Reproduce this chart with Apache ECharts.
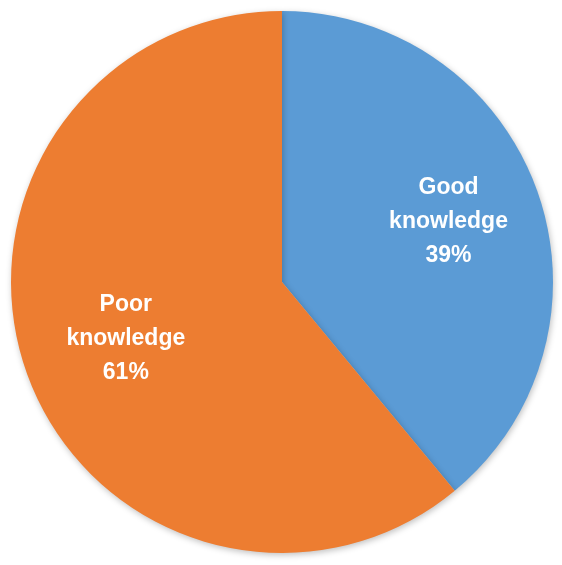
<!DOCTYPE html>
<html>
<head>
<meta charset="utf-8">
<script src="https://cdn.jsdelivr.net/npm/echarts@6/dist/echarts.min.js"></script>
<style>html,body{margin:0;padding:0;background:#fff;}#c{width:562px;height:565px;}</style>
</head>
<body>
<div id="c"></div>
<script>
const categories = ['Good\nknowledge', 'Poor\nknowledge'];
const values = [39, 61];
const colors = ['#5B9BD5', '#ED7D31'];

const chart = echarts.init(document.getElementById('c'), null, {renderer: 'canvas'});
const data = categories.map((c, i) => ({name: c, value: values[i], itemStyle: {color: colors[i]}}));
const labelRadii = [[104, 244], [96, 230]];
const labelStyle = {
  show: true,
  position: 'inside',
  formatter: p => p.name + '\n' + p.value + '%',
  color: '#ffffff',
  fontFamily: 'Liberation Sans, Arial, sans-serif',
  fontWeight: 'bold',
  fontSize: 23,
  lineHeight: 34,
  align: 'center'
};
const labelSeries = labelRadii.map((rad, k) => ({
  type: 'pie',
  center: [282, 282],
  radius: rad,
  startAngle: 90,
  clockwise: true,
  silent: true,
  data: categories.map((c, i) => ({name: c, value: values[i], label: {show: i === k}})),
  itemStyle: {color: 'rgba(0,0,0,0)', borderWidth: 0},
  labelLine: {show: false},
  label: labelStyle
}));
chart.setOption({
  animation: false,
  series: [
    {
      type: 'pie',
      center: [282, 282],
      radius: [0, 271],
      startAngle: 90,
      clockwise: true,
      silent: true,
      data: data,
      label: {show: false},
      labelLine: {show: false},
      itemStyle: {
        borderWidth: 0,
        shadowBlur: 6,
        shadowColor: 'rgba(0,0,0,0.25)',
        shadowOffsetX: 1,
        shadowOffsetY: 2
      }
    }
  ].concat(labelSeries)
});
</script>
</body>
</html>
